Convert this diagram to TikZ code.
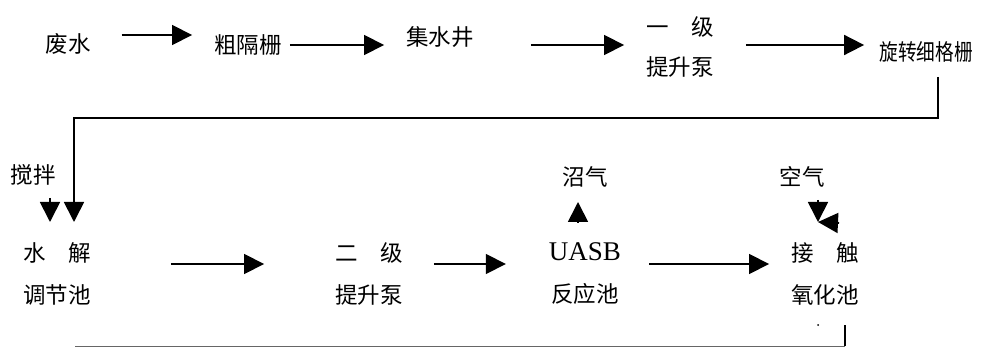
\documentclass[tikz,border=0pt]{standalone}
\usepackage{fontspec}
\usepackage{graphicx}
\setmainfont{Liberation Serif}
\newfontfamily\cjk{Noto Sans CJK SC}
\usetikzlibrary{arrows.meta}
\begin{document}
\begin{tikzpicture}[x=1pt,y=-1pt,
  lbl/.style={inner sep=0pt, font=\cjk\fontsize{22.5}{42}\selectfont, align=center},
  lbltop/.style={inner sep=0pt, font=\cjk\fontsize{22.5}{40}\selectfont, align=center},
  flow/.style={line width=1.7pt, -{Triangle[length=20pt,width=20pt]}},
  line/.style={line width=1.7pt}]
\useasboundingbox (0,0) rectangle (1003,347);
% top row
\node[lbl] (n1) at (68,44) {废水};
\node[lbl] (n2) at (248,45) {粗隔栅};
\node[lbl] (n3) at (440,37) {集水井};
\node[lbltop] (n4) at (680,47) {一\hspace{1em}级\\提升泵};
\node[lbl] (n5) at (926,52) {\scalebox{0.83}[1]{旋转细格栅}};
% bottom row
\node[lbl] (n6) at (33,175) {搅拌};
\node[lbl] (n7) at (57,274) {水\hspace{1em}解\\调节池};
\node[lbl] (n8) at (369,274) {二\hspace{1em}级\\提升泵};
\node[lbl] (n9) at (585,274) {{\rmfamily\fontsize{27}{42}\selectfont UASB}\\反应池};
\node[lbl] (n10) at (825,274) {接\hspace{1em}触\\氧化池};
\node[lbl] (n11) at (585,177) {沼气};
\node[lbl] (n12) at (802,177) {空气};
% top arrows
\draw[flow] ([shift={(31,-9)}]n1.east) -- ([shift={(-22,-10)}]n2.west);
\draw[flow] ([shift={(8,0)}]n2.east) -- ([shift={(-22,8)}]n3.west);
\draw[flow] ([shift={(57,8)}]n3.east) -- ([shift={(-22,-2)}]n4.west);
\draw[flow] ([shift={(32,-2)}]n4.east) -- ([shift={(-15,-7)}]n5.west);
% feedback from rotating screen to hydrolysis tank
\draw[flow] ([shift={(12,25)}]n5.center) -- ++(0,41) -| ([shift={(17,-52)}]n7.center);
% stirring
\draw[flow] ([shift={(17,23)}]n6.center) -- ([shift={(-7,-52)}]n7.center);
% bottom arrows
\draw[flow] ([shift={(80,-10)}]n7.east) -- ([shift={(-71,-10)}]n8.west);
\draw[flow] ([shift={(31,-10)}]n8.east) -- ([shift={(-43,-10)}]n9.west);
\draw[flow] ([shift={(28,-10)}]n9.east) -- ([shift={(-22,-10)}]n10.west);
% biogas
\draw[flow] ([shift={(-7,-52)}]n9.center) -- ([shift={(-7,25)}]n11.center);
% air
\draw[flow] ([shift={(16,23)}]n12.center) -- ([shift={(-7,-52)}]n10.center);
\draw[flow] ([shift={(14,-51)}]n10.center) -- ([shift={(-7,-52)}]n10.center);
% return line at bottom
\coordinate (c1) at ([shift={(20,72)}]n10.center);
\draw[line] ([shift={(20,51)}]n10.center) -- (c1);
\draw[line width=1pt, black!60] (c1) -- ([shift={(18,72)}]n7.center);
\fill ([shift={(-7,51)}]n10.center) circle (1pt);
\end{tikzpicture}
\end{document}
